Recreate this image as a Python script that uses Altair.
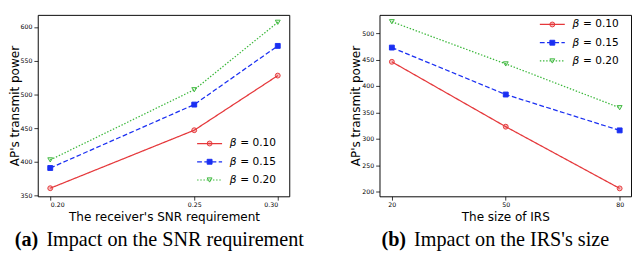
import altair as alt
import pandas as pd

# ---- data ----
betas = ["0.10", "0.15", "0.20"]

snr_x = [0.20, 0.25, 0.30]
snr_b010 = [361, 447, 528]
snr_b015 = [391, 485, 572]
snr_b020 = [403, 507, 607]

irs_x = [20, 50, 80]
irs_b010 = [446, 323, 206]
irs_b015 = [473, 384, 316]
irs_b020 = [522, 442, 359]

snr_ticks = [0.20, 0.25, 0.30]
irs_ticks = [20, 50, 80]
snr_yticks = [350, 400, 450, 500, 550, 600]
irs_yticks = [200, 250, 300, 350, 400, 450, 500]

colors = ["#e5383b", "#1a2ff2", "#3db83d"]
dashes = [[1, 0], [5, 2.5], [1.5, 1.8]]
shapes = ["circle", "square", "triangle-down"]
fills = [0.35, 1.0, 0.15]

W, H = 262, 189


def long_df(xs, series):
    rows = []
    for b, ys in zip(betas, series):
        for x, y in zip(xs, ys):
            rows.append({"x": x, "y": y, "beta": b})
    return pd.DataFrame(rows)


one = pd.DataFrame({"k": [0]})


def panel(xs, series, xscale, yscale, xticks, yticks, xfmt, xtitle, ytx,
          leg_x, leg_y0, cap_a, cap_text, cap_ax, cap_tx):
    df = long_df(xs, series)
    layers = []
    for i, b in enumerate(betas):
        sub = alt.Chart(df).transform_filter(alt.datum.beta == b)
        enc = dict(
            x=alt.X("x:Q", scale=xscale,
                    axis=alt.Axis(values=xticks, format=xfmt, title=xtitle)),
            y=alt.Y("y:Q", scale=yscale,
                    axis=alt.Axis(values=yticks, title="AP's transmit power",
                                  titleX=ytx, titleBaseline="alphabetic")),
        )
        layers.append(sub.mark_line(color=colors[i], strokeDash=dashes[i],
                                    strokeWidth=1.3).encode(**enc))
        layers.append(sub.mark_point(shape=shapes[i], filled=True,
                                     fill=colors[i], fillOpacity=fills[i],
                                     stroke=colors[i], strokeWidth=1,
                                     opacity=1, size=26).encode(**enc))
    # manual legend
    for i, b in enumerate(betas):
        yy = leg_y0 + 19 * i
        base = alt.Chart(one)
        layers.append(base.mark_rule(color=colors[i], strokeDash=dashes[i],
                                     strokeWidth=1.3).encode(
            x=alt.value(leg_x), x2=alt.value(leg_x + 26), y=alt.value(yy)))
        layers.append(base.mark_point(shape=shapes[i], filled=True,
                                      fill=colors[i], fillOpacity=fills[i],
                                      stroke=colors[i], strokeWidth=1,
                                      opacity=1, size=26).encode(
            x=alt.value(leg_x + 13), y=alt.value(yy)))
        layers.append(base.mark_text(text="β", font="DejaVu Sans",
                                     fontStyle="italic", fontSize=11,
                                     align="left", baseline="middle",
                                     color="black").encode(
            x=alt.value(leg_x + 34), y=alt.value(yy)))
        layers.append(base.mark_text(text="= " + b, font="DejaVu Sans",
                                     fontSize=11, align="left",
                                     baseline="middle", color="black").encode(
            x=alt.value(leg_x + 45), y=alt.value(yy)))
    # caption
    cap = alt.Chart(one)
    layers.append(cap.mark_text(text=cap_a, font="Liberation Serif",
                                fontWeight="bold", fontSize=21, align="left",
                                baseline="alphabetic", color="black").encode(
        x=alt.value(cap_ax), y=alt.value(241)))
    layers.append(cap.mark_text(text=cap_text, font="Liberation Serif",
                                fontSize=21, align="left",
                                baseline="alphabetic", color="black").encode(
        x=alt.value(cap_tx), y=alt.value(241)))
    return alt.layer(*layers).properties(width=W, height=H)


left = panel(
    snr_x, [snr_b010, snr_b015, snr_b020],
    alt.Scale(domain=[0.20, 0.25, 0.30], range=[13, 163, 250]),
    alt.Scale(domain=[349, 618], nice=False, zero=False),
    snr_ticks, snr_yticks, ".2f", "The receiver's SNR requirement", -20,
    166, 134, "(a)", "Impact on the SNR requirement", -24, 9)

right = panel(
    irs_x, [irs_b010, irs_b015, irs_b020],
    alt.Scale(domain=[16.75, 83], nice=False, zero=False),
    alt.Scale(domain=[191, 535], nice=False, zero=False),
    irs_ticks, irs_yticks, "d", "The size of IRS", -21,
    167, 10, "(b)", "Impact on the IRS's size", 2, 36)

chart = alt.hconcat(left, right, spacing=46).properties(
    padding={"left": 0, "top": 1, "right": 0, "bottom": 0},
    background="white",
).configure_view(
    stroke="black", strokeWidth=1
).configure_axis(
    labelFont="DejaVu Sans", titleFont="DejaVu Sans",
    labelFontSize=6.5, titleFontSize=12.5, titleFontWeight="normal",
    labelColor="black", titleColor="black",
    tickColor="black", tickSize=4, tickWidth=0.8,
    labelPadding=2, grid=False, domain=False,
).configure_axisX(titlePadding=3).configure_axisY(titlePadding=3)

chart.save("out.html", embed_options={"renderer": "svg", "actions": False})
